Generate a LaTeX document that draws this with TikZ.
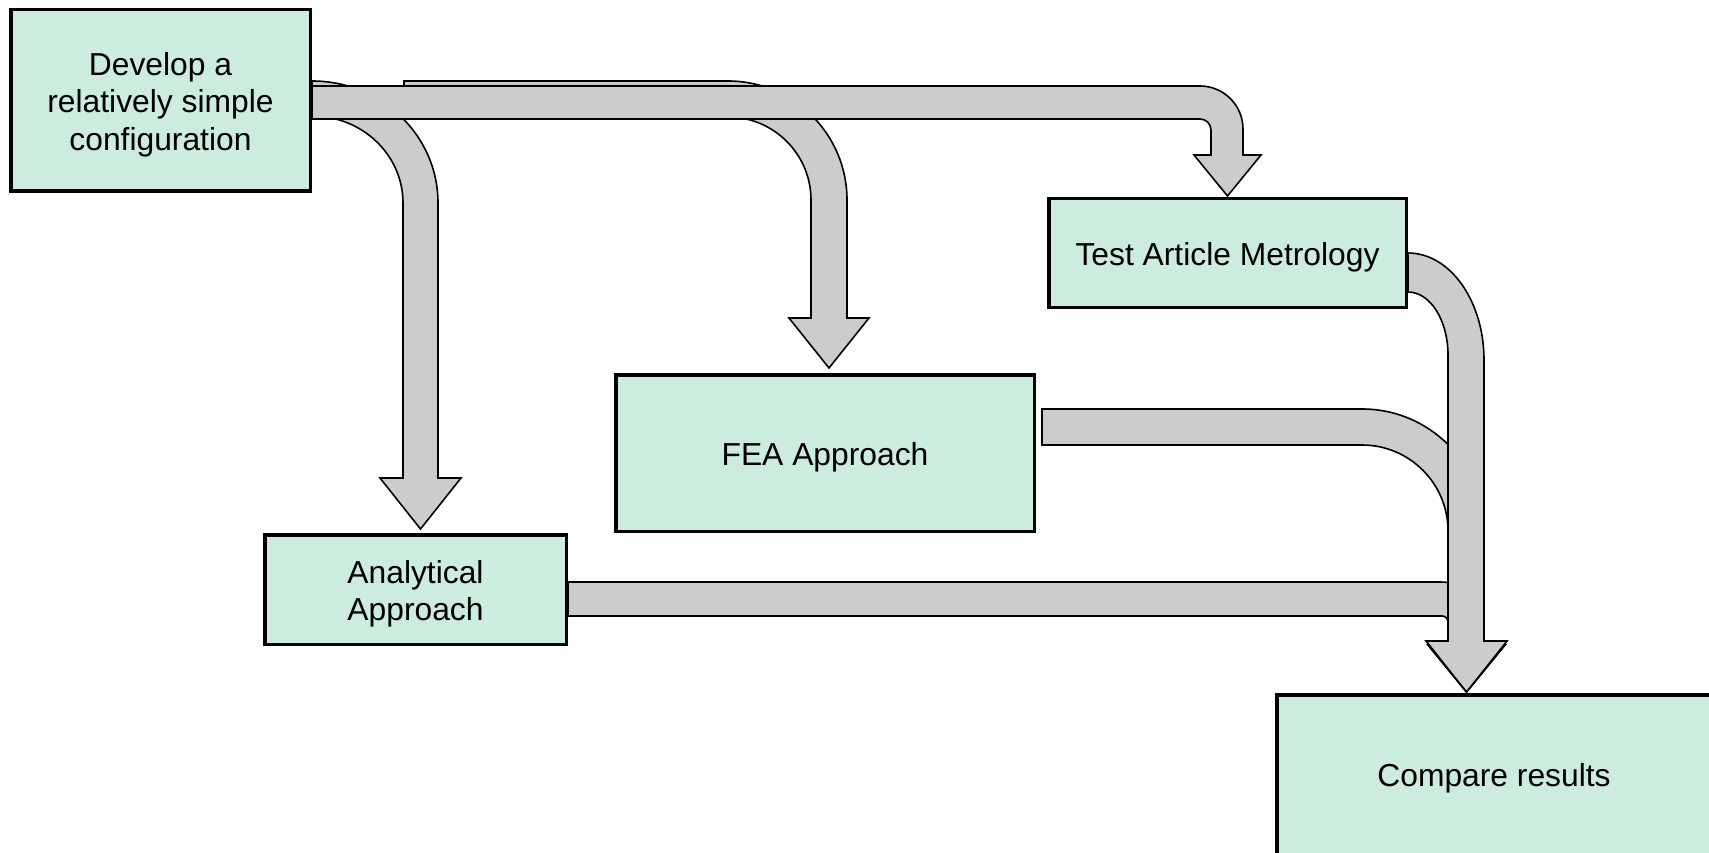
\documentclass[tikz,border=0pt]{standalone}
\usepackage{fontspec}
\setmainfont{Liberation Sans}
\definecolor{boxfill}{RGB}{204,236,221}
\definecolor{arrowgray}{RGB}{204,204,204}
\newcommand{\boxtext}[2][-5pt]{\raisebox{#1}[\height][\depth]{\begin{tabular}{@{}c@{}}#2\end{tabular}}}
\tikzset{
  box/.style={draw=black, fill=boxfill, line width=3.5pt, inner sep=0pt,
    font=\fontsize{31.8}{37.5}\selectfont, text=black},
  barrow/.style={draw=black, fill=arrowgray, line width=1.6pt, line join=miter},
}
\begin{document}
\begin{tikzpicture}[x=1pt,y=-1pt]
\clip (0,0) rectangle (1709,853);
\fill[white] (0,0) rectangle (1709,853);
% Develop -> Analytical
\draw[barrow] (312,81) .. controls (381.6,81) and (438,135.6) .. (438,203) -- (438,478) -- (461,478) -- (420.5,529) -- (380,478) -- (403,478) -- (403,203) .. controls (403,154.9) and (362.3,116) .. (312,116) -- cycle;
% Develop -> FEA
\draw[barrow] (404,81) -- (728,81) .. controls (793.7,81) and (847,134.3) .. (847,200) -- (847,318) -- (869,318) -- (829,368) -- (789,318) -- (811,318) -- (811,200) .. controls (811,154.2) and (773.8,117) .. (728,117) -- (404,117) -- cycle;
% Develop -> Test Article Metrology
\draw[barrow] (312,86) -- (1200,86) .. controls (1223.7,86) and (1243,105.3) .. (1243,129) -- (1243,155) -- (1261,155) -- (1227.5,196) -- (1194,155) -- (1211,155) -- (1211,130) .. controls (1211,123.9) and (1206.1,119) .. (1200,119) -- (312,119) -- cycle;
% FEA -> Compare
\draw[barrow] (1042,409) -- (1362,409) .. controls (1429.4,409) and (1484,463.6) .. (1484,531) -- (1484,645) -- (1505,645) -- (1466.5,692) -- (1428,645) -- (1448,645) -- (1448,531) .. controls (1448,483.5) and (1409.5,445) .. (1362,445) -- (1042,445) -- cycle;
% Analytical -> Compare
\draw[barrow] (568,582) -- (1441,582) .. controls (1464.7,582) and (1484,601.3) .. (1484,625) -- (1484,645) -- (1505,645) -- (1466.5,692) -- (1428,645) -- (1448,645) -- (1448,622) .. controls (1448,618.7) and (1445.3,616) .. (1442,616) -- (568,616) -- cycle;
% Test Article Metrology -> Compare
\draw[barrow] (1408,253) .. controls (1450,253) and (1484,300.9) .. (1484,360) -- (1484,641) -- (1507,641) -- (1466.5,692) -- (1426,641) -- (1448,641) -- (1448,355) .. controls (1448,320.2) and (1430.1,292) .. (1408,292) -- cycle;
% boxes
\node[box, minimum width=299.5pt, minimum height=181.5pt] (dev) at (160.5,100.5) {\boxtext{Develop a\\relatively simple\\configuration}};
\node[box, minimum width=301.5pt, minimum height=109.5pt] (ana) at (415.5,589.5) {\boxtext{Analytical\\Approach}};
\node[box, minimum width=418.5pt, minimum height=156.5pt] (fea) at (825,453) {\boxtext{FEA Approach}};
\node[box, minimum width=357.5pt, minimum height=108.5pt] (tam) at (1227.5,253) {\boxtext{Test Article Metrology}};
\node[box, minimum width=434.5pt, minimum height=164.5pt] (cmp) at (1494,777) {\boxtext[-2pt]{Compare results}};
\end{tikzpicture}
\end{document}
